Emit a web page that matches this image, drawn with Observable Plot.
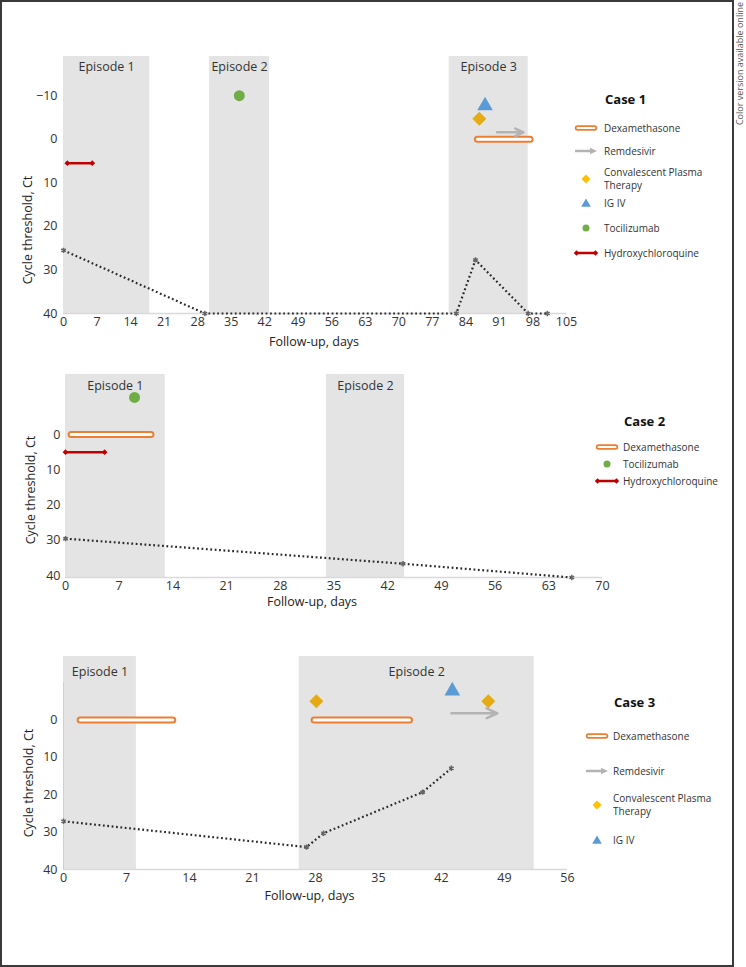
<!DOCTYPE html>
<html><head><meta charset="utf-8">
<script src="https://cdn.jsdelivr.net/npm/d3@7"></script>
<script src="https://cdn.jsdelivr.net/npm/@observablehq/plot@0.6"></script>
<style>
html,body{margin:0;padding:0;background:#fff;}
#page{position:relative;width:746px;height:967px;font-family:"Open Sans",sans-serif;color:#333;overflow:hidden;background:#fff;}
#frame{position:absolute;left:0;top:0;width:734px;height:967px;border:2px solid #3a3a3a;box-sizing:border-box;}
.panel{position:absolute;left:0;}
.lg{position:absolute;font-size:10px;line-height:13px;color:#333;white-space:nowrap;}
.lgt{position:absolute;font-size:13px;line-height:16px;font-weight:700;color:#111;white-space:nowrap;}
.sw{position:absolute;overflow:visible;}
</style></head>
<body><div id="page"><div id="frame"></div></div>
<script>
// ---------- DATA ----------
// Case 1
const case1Episodes = [
  {label: "Episode 1", start: 0, end: 18},
  {label: "Episode 2", start: 30.5, end: 43},
  {label: "Episode 3", start: 80.5, end: 97}
];
const case1CtDays = [0, 29.5, 82, 86, 97, 101];
const case1CtValues = [25.5, 40, 40, 27.7, 40, 40];
const case1Dexamethasone = [{start: 86.5, end: 97.5, ct: 0}];
const case1Remdesivir = [{start: 90.5, end: 96, ct: -1.6}];
const case1Plasma = [{day: 86.8, ct: -4.7}];
const case1IgIv = [{day: 88, ct: -7.7}];
const case1Tocilizumab = [{day: 36.7, ct: -10}];
const case1Hcq = [{start: 0.8, end: 6, ct: 5.5}];
const case1XTicks = [0, 7, 14, 21, 28, 35, 42, 49, 56, 63, 70, 77, 84, 91, 98, 105];
const case1YTicks = [-10, 0, 10, 20, 30, 40];

// Case 2
const case2Episodes = [
  {label: "Episode 1", start: 0, end: 13},
  {label: "Episode 2", start: 34, end: 44.2}
];
const case2CtDays = [0, 44, 66];
const case2CtValues = [29.5, 36.6, 40.5];
const case2Dexamethasone = [{start: 0.8, end: 11.2, ct: 0}];
const case2Tocilizumab = [{day: 9, ct: -10.5}];
const case2Hcq = [{start: 0, end: 5.1, ct: 5}];
const case2XTicks = [0, 7, 14, 21, 28, 35, 42, 49, 56, 63, 70];
const case2YTicks = [0, 10, 20, 30, 40];

// Case 3
const case3Episodes = [
  {label: "Episode 1", start: 0, end: 8.1},
  {label: "Episode 2", start: 26.2, end: 52.3}
];
const case3CtDays = [0, 27, 28.9, 39.9, 43.1];
const case3CtValues = [27.1, 34, 30.3, 19.3, 12.9];
const case3Dexamethasone = [{start: 1.9, end: 12.2, ct: 0}, {start: 27.9, end: 38.5, ct: 0}];
const case3Remdesivir = [{start: 43.1, end: 48.2, ct: -1.8}];
const case3Plasma = [{day: 28.1, ct: -5}, {day: 47.2, ct: -5}];
const case3IgIv = [{day: 43.2, ct: -7.8}];
const case3XTicks = [0, 7, 14, 21, 28, 35, 42, 49, 56];
const case3YTicks = [0, 10, 20, 30, 40];

const xTitle = "Follow-up, days";
const yTitle = "Cycle threshold, Ct";

const legend1 = ["Dexamethasone", "Remdesivir", "Convalescent Plasma\nTherapy", "IG IV", "Tocilizumab", "Hydroxychloroquine"];
const legend2 = ["Dexamethasone", "Tocilizumab", "Hydroxychloroquine"];
const legend3 = ["Dexamethasone", "Remdesivir", "Convalescent Plasma\nTherapy", "IG IV"];

// ---------- STYLE ----------
const C = {
  band: "#e4e4e4", dex: "#ed7d31", rem: "#b3b3b3", cp: "#e6ab12", cpLegend: "#ffc000",
  ig: "#5b9bd5", toci: "#70ad47", hcq: "#c00000", ct: "#2a2a2a"
};

function zipCt(days, vals) { return days.map((d, i) => ({day: d, ct: vals[i]})); }

function panel(cfg) {
  const ct = zipCt(cfg.ctDays, cfg.ctValues);
  const hcqEnds = cfg.hcq.flatMap(d => [{day: d.start, ct: d.ct}, {day: d.end, ct: d.ct}]);
  const yBot = cfg.yDomain[1];
  const marks = [
    Plot.rect(cfg.episodes, {x1: "start", x2: "end", fill: C.band}),
    Plot.text(cfg.episodes, {x: d => (d.start + d.end) / 2, frameAnchor: "top", dy: cfg.epDy, text: "label", fill: "#333", lineAnchor: "middle", fontSize: 12.5}),
    Plot.ruleY([yBot], {stroke: "#d9d9d9", strokeWidth: 1.5}),
    ...(cfg.yLine ? [Plot.ruleX([0], {y1: cfg.yLine[0], y2: cfg.yLine[1], stroke: "#cfcfcf", strokeWidth: 1})] : []),
    Plot.line(ct, {x: "day", y: "ct", stroke: C.ct, strokeWidth: 2.2, strokeDasharray: "1.8,2.6", strokeLinecap: "butt"}),
    Plot.dot(ct, {x: "day", y: "ct", symbol: "asterisk", r: 2.5, stroke: "#666", strokeWidth: 1.5}),
    Plot.ruleY(cfg.dex, {x1: "start", x2: "end", y: "ct", stroke: C.dex, strokeWidth: 7, strokeLinecap: "round"}),
    Plot.ruleY(cfg.dex, {x1: "start", x2: "end", y: "ct", stroke: "white", strokeWidth: 3, strokeLinecap: "round"}),
    Plot.arrow(cfg.rem, {x1: "start", x2: "end", y1: "ct", y2: "ct", stroke: C.rem, strokeWidth: 2.5, headLength: 7, headAngle: 50}),
    Plot.ruleY(cfg.hcq, {x1: "start", x2: "end", y: "ct", stroke: C.hcq, strokeWidth: 2.5}),
    Plot.dot(hcqEnds, {x: "day", y: "ct", symbol: "diamond2", r: 2.6, fill: C.hcq}),
    Plot.dot(cfg.toci, {x: "day", y: "ct", r: 5.5, fill: C.toci}),
    Plot.dot(cfg.cp, {x: "day", y: "ct", symbol: "diamond2", r: 6.3, fill: C.cp}),
    Plot.dot(cfg.ig, {x: "day", y: "ct", symbol: "triangle", r: 5.8, fill: C.ig}),
    Plot.text([xTitle], {frameAnchor: "bottom", dx: cfg.xTitleDx, dy: cfg.xTitleDy, lineAnchor: "middle", fontSize: 12.5, fill: "#222"}),
    Plot.text([yTitle], {frameAnchor: "left", dx: cfg.yTitleDx, dy: cfg.yTitleDy, rotate: -90, lineAnchor: "middle", textAnchor: "middle", fontSize: 12.5, fill: "#222"})
  ];
  const svg = Plot.plot({
    width: cfg.width, height: cfg.height,
    marginLeft: cfg.ml, marginRight: cfg.mr, marginTop: cfg.mt, marginBottom: cfg.mb,
    style: {fontFamily: "Open Sans, sans-serif", fontSize: "12.5px", color: "#333", background: "transparent", overflow: "visible"},
    x: {domain: cfg.xDomain, ticks: cfg.xTicks, tickSize: 0, tickPadding: 4, label: null},
    y: {domain: cfg.yDomain, reverse: true, ticks: cfg.yTicks, tickSize: 0, tickPadding: cfg.yPad, label: null},
    marks
  });
  const wrap = document.createElement("div");
  wrap.className = "panel";
  wrap.style.top = cfg.top + "px";
  wrap.appendChild(svg);
  document.getElementById("page").appendChild(wrap);
}

panel({
  top: 30, width: 600, height: 320, ml: 63, mr: 34, mt: 26, mb: 37,
  xDomain: [0, 105], yDomain: [-19, 40], xTicks: case1XTicks, yTicks: case1YTicks, yPad: 6,
  episodes: case1Episodes, epDy: 10, ctDays: case1CtDays, ctValues: case1CtValues,
  dex: case1Dexamethasone, rem: case1Remdesivir, cp: case1Plasma, ig: case1IgIv, toci: case1Tocilizumab, hcq: case1Hcq,
  xTitleDx: -1, xTitleDy: 28, yTitleDx: -36, yTitleDy: 45
});
panel({
  top: 355, width: 630, height: 255, ml: 65, mr: 28, mt: 19, mb: 33,
  xDomain: [0, 70], yDomain: [-17, 40.5], xTicks: case2XTicks, yTicks: case2YTicks, yPad: 5,
  episodes: case2Episodes, epDy: 11, ctDays: case2CtDays, ctValues: case2CtValues,
  dex: case2Dexamethasone, rem: [], cp: [], ig: [], toci: case2Tocilizumab, hcq: case2Hcq,
  xTitleDx: -22, xTitleDy: 24, yTitleDx: -35, yTitleDy: 14
});
panel({
  top: 620, width: 600, height: 290, ml: 63, mr: 33, mt: 36, mb: 41,
  xDomain: [0, 56], yDomain: [-17, 40], xTicks: case3XTicks, yTicks: case3YTicks, yPad: 6,
  episodes: case3Episodes, epDy: 15, ctDays: case3CtDays, ctValues: case3CtValues,
  dex: case3Dexamethasone, rem: case3Remdesivir, cp: case3Plasma, ig: case3IgIv, toci: [], hcq: [],
  xTitleDx: -6, xTitleDy: 26, yTitleDx: -35, yTitleDy: 20, yLine: [-10, 40]
});

// ---------- LEGENDS ----------
const swatches = {
  "Dexamethasone": `<line x1="3.5" x2="20.5" y1="6" y2="6" stroke="${C.dex}" stroke-width="5.5" stroke-linecap="round"/><line x1="3.5" x2="20.5" y1="6" y2="6" stroke="#fff" stroke-width="2" stroke-linecap="round"/>`,
  "Remdesivir": `<line x1="1" x2="17" y1="6" y2="6" stroke="${C.rem}" stroke-width="2.5"/><polygon points="16,2.8 23,6 16,9.2" fill="${C.rem}"/>`,
  "Convalescent Plasma\nTherapy": `<polygon points="12,1.5 16.5,6 12,10.5 7.5,6" fill="${C.cpLegend}"/>`,
  "IG IV": `<polygon points="12,1.5 16.8,9.8 7.2,9.8" fill="${C.ig}"/>`,
  "Tocilizumab": `<circle cx="12" cy="6" r="3.5" fill="${C.toci}"/>`,
  "Hydroxychloroquine": `<line x1="2.5" x2="21.5" y1="6" y2="6" stroke="${C.hcq}" stroke-width="2.5"/><polygon points="2.5,3.3 5.2,6 2.5,8.7 -0.2,6" fill="${C.hcq}"/><polygon points="21.5,3.3 24.2,6 21.5,8.7 18.8,6" fill="${C.hcq}"/>`
};
function legend(title, items, titleX, titleY, symCx, textX, ys) {
  const page = document.getElementById("page");
  const t = document.createElement("div");
  t.className = "lgt"; t.textContent = title;
  t.style.left = titleX + "px"; t.style.top = (titleY - 8) + "px";
  page.appendChild(t);
  items.forEach((name, i) => {
    const y = ys[i];
    const s = document.createElementNS("http://www.w3.org/2000/svg", "svg");
    s.setAttribute("class", "sw"); s.setAttribute("width", 24); s.setAttribute("height", 12);
    s.style.left = (symCx - 12) + "px"; s.style.top = (y - 6) + "px";
    s.innerHTML = swatches[name];
    page.appendChild(s);
    const lines = name.split("\n");
    const d = document.createElement("div");
    d.className = "lg";
    d.innerHTML = lines.join("<br>");
    d.style.left = textX + "px";
    d.style.top = (y - lines.length * 6.5) + "px";
    page.appendChild(d);
  });
}
legend("Case 1", legend1, 605, 99, 586, 604, [128, 151, 178.5, 203, 228, 253]);
legend("Case 2", legend2, 624, 421, 607, 623, [447, 464, 481]);
legend("Case 3", legend3, 614, 702, 597, 613, [736, 771, 804.5, 840]);

// ---------- SIDE NOTE ----------
const note = document.createElementNS("http://www.w3.org/2000/svg", "svg");
note.setAttribute("width", 13); note.setAttribute("height", 140);
note.style.position = "absolute"; note.style.left = "734px"; note.style.top = "0px"; note.style.overflow = "visible";
note.innerHTML = `<text transform="translate(9,2) rotate(-90)" text-anchor="end" font-size="9" fill="#555" font-family="Open Sans, sans-serif">Color version available online</text>`;
document.getElementById("page").appendChild(note);
</script>
</body></html>
